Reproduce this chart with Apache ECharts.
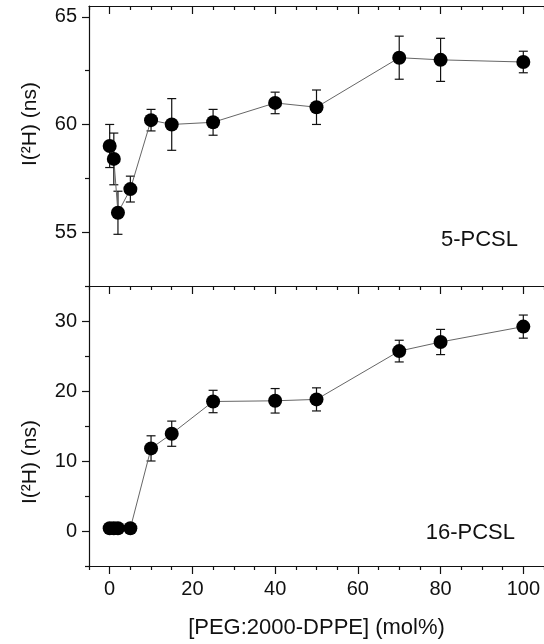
<!DOCTYPE html>
<html>
<head>
<meta charset="utf-8">
<script src="https://cdn.jsdelivr.net/npm/echarts@6/dist/echarts.min.js"></script>
<style>
  html, body { margin: 0; padding: 0; background: #fff; }
  #chart { width: 544px; height: 644px; }
</style>
</head>
<body>
<div id="chart"></div>
<script>
// PEG:2000-DPPE content (mol%)
const peg = [0, 1, 2, 5, 10, 15, 25, 40, 50, 70, 80, 100];
// 5-PCSL
const t5 = [59.0, 58.4, 55.9, 57.0, 60.2, 60.0, 60.1, 61.0, 60.8, 63.1, 63.0, 62.9];
const t5Err = [1.0, 1.2, 1.0, 0.6, 0.5, 1.2, 0.6, 0.5, 0.8, 1.0, 1.0, 0.5];
// 16-PCSL
const t16 = [0.4, 0.4, 0.4, 0.4, 11.8, 13.9, 18.5, 18.6, 18.8, 25.7, 27.0, 29.2];
const t16Err = [0.3, 0.3, 0.3, 0.3, 1.8, 1.8, 1.6, 1.75, 1.65, 1.55, 1.8, 1.65];

const xMajor = [0, 20, 40, 60, 80, 100];
const xMinor = [-5, 5, 10, 15, 25, 30, 35, 45, 50, 55, 65, 70, 75, 85, 90, 95, 105];
const y5Major = [55, 60, 65];
const y5Minor = [57.5, 62.5];
const y16Major = [0, 10, 20, 30];
const y16Minor = [-5, 5, 15, 25, 35];

const font = "'Liberation Sans', Arial, sans-serif";
const ink = '#111';

const chart = echarts.init(document.getElementById('chart'));

function xAx(grid, pos, ticks, len, inside, opts) {
  return Object.assign({
    type: 'value', gridIndex: grid, position: pos, min: -5, max: 105,
    axisLine: { show: false, onZero: false, lineStyle: { color: ink, width: 1.2 } },
    axisTick: { show: true, inside: inside, length: len, customValues: ticks, lineStyle: { color: ink, width: 1.2 } },
    axisLabel: { show: false },
    splitLine: { show: false }
  }, opts || {});
}

function yAx(grid, min, max, ticks, len, opts) {
  return Object.assign({
    type: 'value', gridIndex: grid, position: 'left', min: min, max: max,
    axisLine: { show: false, onZero: false, lineStyle: { color: ink, width: 1.2 } },
    axisTick: { show: true, inside: false, length: len, customValues: ticks, lineStyle: { color: ink, width: 1.2 } },
    axisLabel: { show: false },
    splitLine: { show: false }
  }, opts || {});
}

const shownLine = { show: true, onZero: false, lineStyle: { color: ink, width: 1.2 } };
const labelStyle = { show: true, color: ink, fontSize: 20, fontFamily: font };
const yName = 'I(\u00B2H) (ns)';

function errBars(xIdx, yIdx, vals, errs) {
  return {
    type: 'custom', xAxisIndex: xIdx, yAxisIndex: yIdx, z: 3,
    data: peg.map((p, i) => [p, vals[i], errs[i]]),
    renderItem: function (params, api) {
      const x = api.value(0), y = api.value(1), e = api.value(2);
      const hi = api.coord([x, y + e]);
      const lo = api.coord([x, y - e]);
      const w = 4.5;
      const st = { stroke: ink, lineWidth: 1.2 };
      return {
        type: 'group',
        children: [
          { type: 'line', shape: { x1: hi[0], y1: hi[1], x2: lo[0], y2: lo[1] }, style: st },
          { type: 'line', shape: { x1: hi[0] - w, y1: hi[1], x2: hi[0] + w, y2: hi[1] }, style: st },
          { type: 'line', shape: { x1: lo[0] - w, y1: lo[1], x2: lo[0] + w, y2: lo[1] }, style: st }
        ]
      };
    }
  };
}

function lineSeries(xIdx, yIdx, vals) {
  return {
    type: 'line', xAxisIndex: xIdx, yAxisIndex: yIdx, z: 4,
    data: peg.map((p, i) => [p, vals[i]]),
    symbol: 'circle', symbolSize: 14,
    itemStyle: { color: '#000' },
    lineStyle: { color: '#666', width: 1 }
  };
}

const option = {
  animation: false,
  backgroundColor: '#fff',
  textStyle: { fontFamily: font },
  grid: [
    { left: 89, top: 6, width: 458, height: 280 },
    { left: 89, top: 286, width: 458, height: 280 }
  ],
  xAxis: [
    // top panel, shared middle line
    xAx(0, 'bottom', xMajor, 8, false, { axisLine: shownLine }),
    xAx(0, 'bottom', xMinor, 4, false),
    xAx(0, 'top', xMajor, 8, true, { axisLine: shownLine }),
    xAx(0, 'top', xMinor, 4, true),
    // bottom panel
    xAx(1, 'bottom', xMajor, 8, false, {
      axisLine: shownLine,
      axisLabel: Object.assign({}, labelStyle, { customValues: xMajor, margin: 13 }),
      name: '[PEG:2000-DPPE] (mol%)',
      nameLocation: 'middle', nameGap: 51,
      nameTextStyle: { color: ink, fontSize: 22, fontFamily: font }
    }),
    xAx(1, 'bottom', xMinor, 4, false)
  ],
  yAxis: [
    yAx(0, 52.5, 65.5, y5Major, 7, {
      axisLine: shownLine,
      axisLabel: Object.assign({}, labelStyle, { customValues: y5Major, margin: 12 }),
      name: yName, nameLocation: 'middle', nameGap: 48,
      nameTextStyle: { color: ink, fontSize: 21, fontFamily: font, padding: [0, 0, 0, 44] }
    }),
    yAx(0, 52.5, 65.5, y5Minor, 4),
    yAx(1, -5, 35, y16Major, 7, {
      axisLine: shownLine,
      axisLabel: Object.assign({}, labelStyle, { customValues: y16Major, margin: 12 }),
      name: yName, nameLocation: 'middle', nameGap: 48,
      nameTextStyle: { color: ink, fontSize: 21, fontFamily: font, padding: [0, 72, 0, 0] }
    }),
    yAx(1, -5, 35, y16Minor, 4)
  ],
  graphic: [
    { type: 'text', right: 26, top: 229, style: { text: '5-PCSL', fill: ink, font: '22px ' + font } },
    { type: 'text', right: 29, top: 522, style: { text: '16-PCSL', fill: ink, font: '22px ' + font } }
  ],
  series: [
    errBars(0, 0, t5, t5Err),
    lineSeries(0, 0, t5),
    errBars(4, 2, t16, t16Err),
    lineSeries(4, 2, t16)
  ]
};

chart.setOption(option);
</script>
</body>
</html>
